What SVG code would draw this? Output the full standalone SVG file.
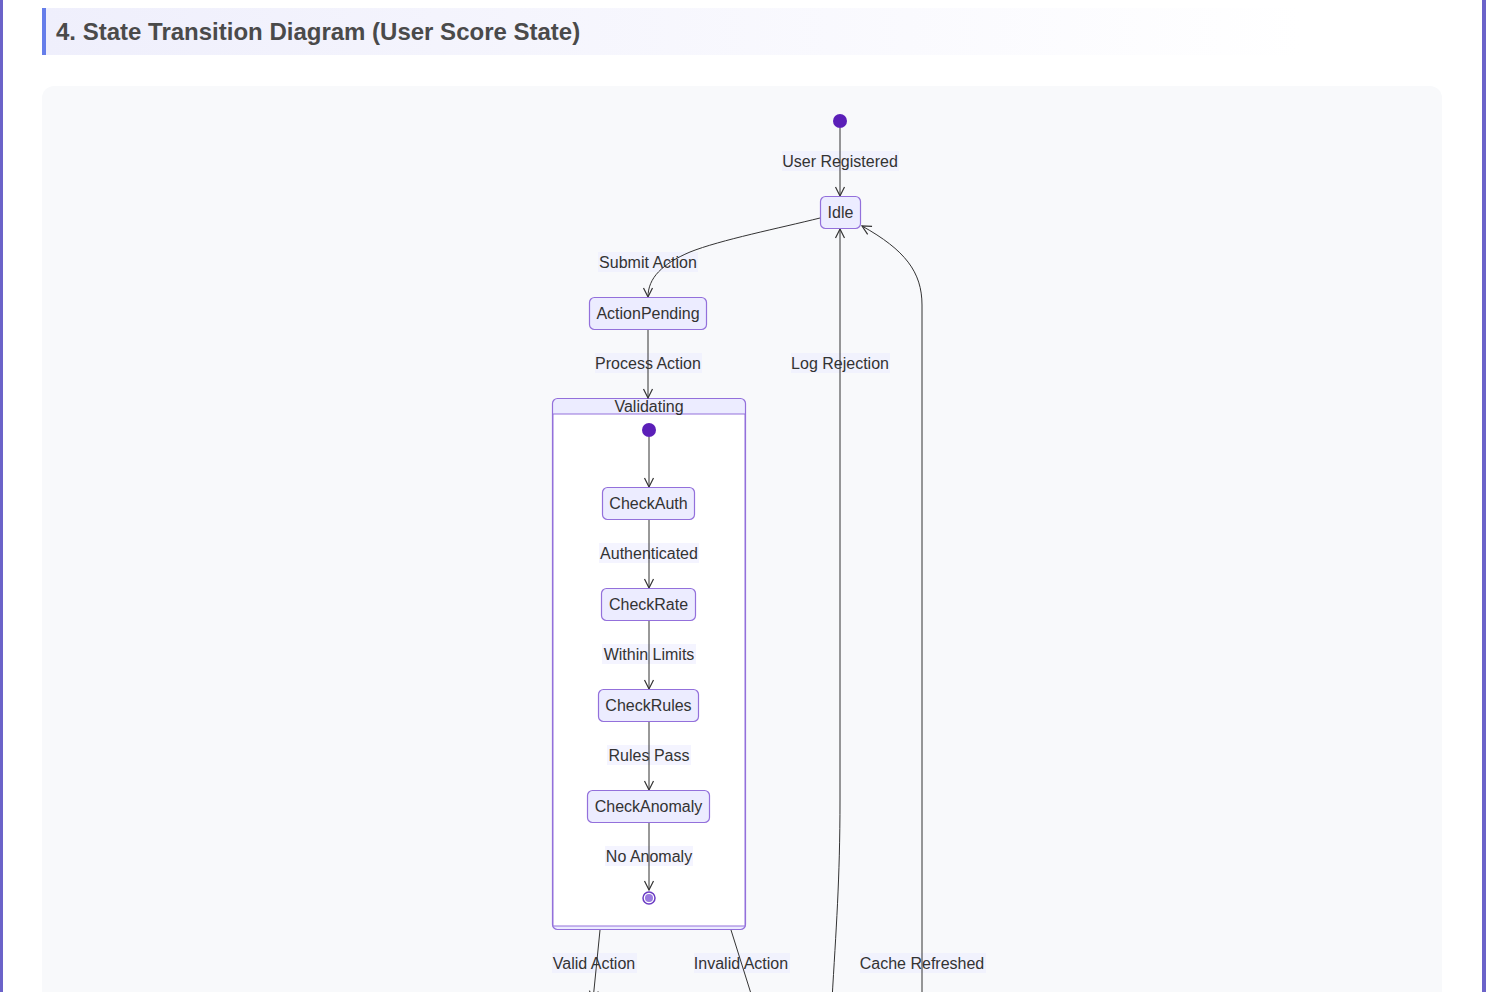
<svg xmlns="http://www.w3.org/2000/svg" width="1486" height="992" viewBox="0 0 1486 992">
<defs>
<linearGradient id="hg" x1="0" y1="0" x2="1" y2="0">
<stop offset="0" stop-color="#efeffc"/>
<stop offset="1" stop-color="#ffffff"/>
</linearGradient>
<marker id="arr" viewBox="0 0 12 12" refX="10" refY="6" markerWidth="12" markerHeight="12" markerUnits="userSpaceOnUse" orient="auto">
<path d="M1,1.5 L10,6 L1,10.5" fill="none" stroke="#333" stroke-width="1.2"/>
</marker>
</defs>
<style>
.node rect{fill:#ECECFF;stroke:#9370DB;stroke-width:1.2}
.t{font-family:"Liberation Sans",Arial,sans-serif;font-size:16px;fill:#333;text-anchor:middle;dominant-baseline:central}
.lb{fill:#ececff;opacity:0.6}
.e{fill:none;stroke:#333;stroke-width:1}
.ea{fill:none;stroke:#333;stroke-width:1;marker-end:url(#arr)}
</style>
<rect x="0" y="0" width="1486" height="992" fill="#ffffff"/>
<rect x="0" y="0" width="3" height="992" fill="#6b63c9"/>
<rect x="1482" y="0" width="4" height="992" fill="#6b63c9"/>
<g id="heading">
<rect x="42" y="8" width="1260" height="47" fill="url(#hg)"/>
<rect x="42" y="8" width="4" height="47" fill="#667eea"/>
<text x="56" y="40" font-family="'Liberation Sans',Arial,sans-serif" font-size="24" font-weight="bold" fill="#4a4a4a">4. State Transition Diagram (User Score State)</text>
</g>
<rect x="42" y="86" width="1400" height="930" rx="12" fill="#f8f9fb"/>
<g id="Validating" class="node">
<rect x="552.5" y="398.5" width="193" height="531" rx="5"/>
<rect x="553" y="414" width="192" height="512" style="fill:#ffffff;stroke:#9370DB;stroke-width:1"/>
<text class="t" x="649" y="406">Validating</text>
</g>
<g id="connector-labels">
<rect class="lb" x="782" y="151" width="117" height="20"/>
<rect class="lb" x="598" y="252" width="100" height="20"/>
<rect class="lb" x="595" y="353" width="107" height="20"/>
<rect class="lb" x="791" y="353" width="99" height="20"/>
<rect class="lb" x="599" y="543" width="100" height="20"/>
<rect class="lb" x="602" y="644" width="94" height="20"/>
<rect class="lb" x="607" y="745" width="84" height="20"/>
<rect class="lb" x="605" y="846" width="88" height="20"/>
<rect class="lb" x="552" y="953" width="85" height="20"/>
<rect class="lb" x="694" y="953" width="96" height="20"/>
<rect class="lb" x="860" y="953" width="126" height="20"/>
</g>
<g id="connectors">
<path class="ea" d="M840,128 L840,196"/>
<path class="ea" d="M820,218 C780,228 720,240 690,252 C662,264 648,278 648,297"/>
<path class="ea" d="M648,330 L648,398"/>
<path class="ea" d="M649,437 L649,487"/>
<path class="ea" d="M649,520 L649,588"/>
<path class="ea" d="M649,621 L649,689"/>
<path class="ea" d="M649,722 L649,790"/>
<path class="ea" d="M649,823 L649,890"/>
<path class="ea" d="M832,1000 C836,930 840,880 840,800 L840,229"/>
<path class="ea" d="M922,1000 L922,305 C922,272 905,250 862,226"/>
<path class="ea" d="M600,930 L593,1000"/>
<path class="e" d="M731,930 L753,1000"/>
</g>
<g id="label-texts">
<text class="t" x="840" y="161">User Registered</text>
<text class="t" x="648" y="262">Submit Action</text>
<text class="t" x="648" y="363">Process Action</text>
<text class="t" x="840" y="363">Log Rejection</text>
<text class="t" x="649" y="553">Authenticated</text>
<text class="t" x="649" y="654">Within Limits</text>
<text class="t" x="649" y="755">Rules Pass</text>
<text class="t" x="649" y="856">No Anomaly</text>
<text class="t" x="594" y="963">Valid Action</text>
<text class="t" x="741" y="963">Invalid Action</text>
<text class="t" x="922" y="963">Cache Refreshed</text>
</g>
<g id="start"><circle cx="840" cy="121" r="7" fill="#5b1fb8"/></g>
<g id="Idle" class="node"><rect x="820.5" y="196.5" width="40" height="32" rx="5"/><text class="t" x="840.5" y="212">Idle</text></g>
<g id="ActionPending" class="node"><rect x="589.5" y="297.5" width="117" height="32" rx="5"/><text class="t" x="648" y="313">ActionPending</text></g>
<g id="innerStart"><circle cx="649" cy="430" r="7" fill="#5b1fb8"/></g>
<g id="CheckAuth" class="node"><rect x="602.5" y="487.5" width="92" height="32" rx="5"/><text class="t" x="648.5" y="503">CheckAuth</text></g>
<g id="CheckRate" class="node"><rect x="601.5" y="588.5" width="94" height="32" rx="5"/><text class="t" x="648.5" y="604">CheckRate</text></g>
<g id="CheckRules" class="node"><rect x="598.5" y="689.5" width="100" height="32" rx="5"/><text class="t" x="648.5" y="705">CheckRules</text></g>
<g id="CheckAnomaly" class="node"><rect x="587.5" y="790.5" width="122" height="32" rx="5"/><text class="t" x="648.5" y="806">CheckAnomaly</text></g>
<g id="end"><circle cx="649" cy="898" r="6" fill="#ffffff" stroke="#6a3bc4" stroke-width="1.5"/><circle cx="649" cy="898" r="4" fill="#9a7ae0"/></g>
</svg>
